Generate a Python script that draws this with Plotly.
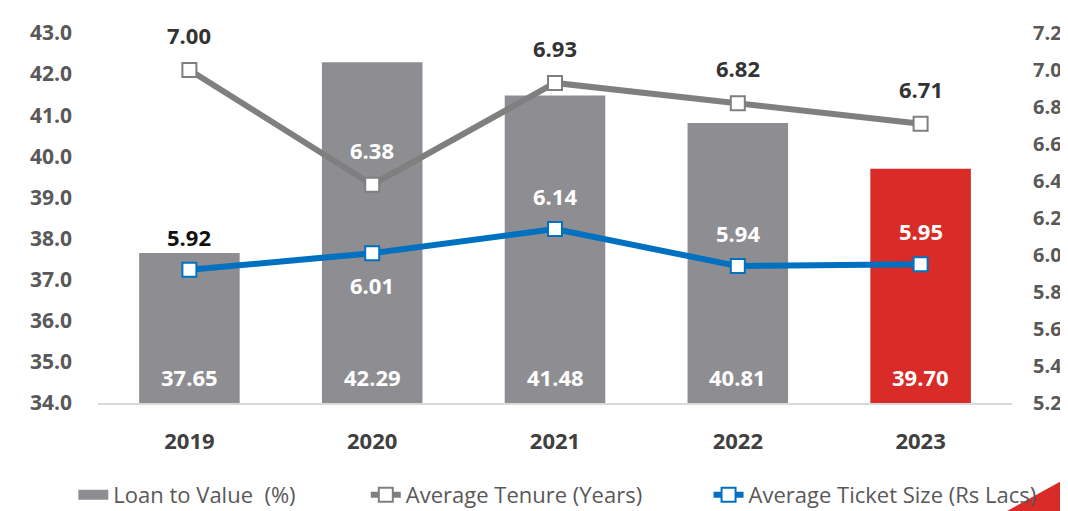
import plotly.graph_objects as go

years = ["2019", "2020", "2021", "2022", "2023"]
loan_to_value = [37.65, 42.29, 41.48, 40.81, 39.70]
avg_tenure = [7.00, 6.38, 6.93, 6.82, 6.71]
avg_ticket = [5.92, 6.01, 6.14, 5.94, 5.95]

left_ticks = [34, 35, 36, 37, 38, 39, 40, 41, 42, 43]
right_ticks = [5.2, 5.4, 5.6, 5.8, 6.0, 6.2, 6.4, 6.6, 6.8, 7.0, 7.2]

# label styling per point (colour, offset in px)
tenure_label_colors = ["#333333", "white", "#333333", "#333333", "#333333"]
ticket_label_colors = ["#111111", "white", "white", "white", "white"]
ticket_label_shift = [33, -32, 33, 33, 33]

GREY_BAR = "#8e8e92"
RED_BAR = "#d92b27"
GREY_LINE = "#7f7f7f"
BLUE_LINE = "#0070c0"
FONT = "Open Sans, Arial, sans-serif"
LABEL_SIZE = 22

fig = go.Figure()

fig.add_trace(go.Bar(
    x=years, y=loan_to_value, name="Loan to Value  (%)",
    marker=dict(color=[GREY_BAR] * 4 + [RED_BAR], line=dict(width=0)),
    width=0.55, showlegend=False,
))
# legend-only entry so the bar swatch is a wide block like the original
fig.add_trace(go.Scatter(
    x=[None], y=[None], name="Loan to Value  (%)", mode="lines",
    line=dict(color=GREY_BAR, width=16), legend="legend",
))

fig.add_trace(go.Scatter(
    x=years, y=avg_tenure, name="Average Tenure (Years)", yaxis="y2",
    mode="lines+markers", legend="legend2",
    line=dict(color=GREY_LINE, width=6),
    marker=dict(symbol="square", size=14, color="white", line=dict(color=GREY_LINE, width=2)),
))

fig.add_trace(go.Scatter(
    x=years, y=avg_ticket, name="Average Ticket Size (Rs Lacs)", yaxis="y2",
    mode="lines+markers", legend="legend3",
    line=dict(color=BLUE_LINE, width=6),
    marker=dict(symbol="square", size=14, color="white", line=dict(color=BLUE_LINE, width=2)),
))

# annotations use the category index (numeric-looking strings confuse the axis)
annotations = []
for i, v in enumerate(loan_to_value):
    annotations.append(dict(
        x=i, y=34, xref="x", yref="y", text=f"<b>{v:.2f}</b>", showarrow=False,
        yanchor="bottom", yshift=9, font=dict(color="white", size=LABEL_SIZE, family=FONT),
    ))
for i, (v, c) in enumerate(zip(avg_tenure, tenure_label_colors)):
    annotations.append(dict(
        x=i, y=v, xref="x", yref="y2", text=f"<b>{v:.2f}</b>", showarrow=False,
        yshift=35, font=dict(color=c, size=LABEL_SIZE, family=FONT),
    ))
for i, (v, c, s) in enumerate(zip(avg_ticket, ticket_label_colors, ticket_label_shift)):
    annotations.append(dict(
        x=i, y=v, xref="x", yref="y2", text=f"<b>{v:.2f}</b>", showarrow=False,
        yshift=s, font=dict(color=c, size=LABEL_SIZE, family=FONT),
    ))

legend_style = dict(
    orientation="h", xanchor="left", y=-0.2486, yanchor="middle",
    font=dict(size=22, color="#595959", family=FONT), bgcolor="rgba(0,0,0,0)",
)

# page body has an 8px margin, so the figure is 8px smaller than the window
fig.update_layout(
    width=1060, height=503,
    margin=dict(l=90, r=56, t=25, b=108, autoexpand=False),
    plot_bgcolor="white", paper_bgcolor="white",
    font=dict(family=FONT, color="#595959"),
    showlegend=True,
    legend=dict(x=-0.027, **legend_style),
    legend2=dict(x=0.293, **legend_style),
    legend3=dict(x=0.668, **legend_style),
    annotations=annotations,
    xaxis=dict(
        type="category", range=[-0.5, 4.5],
        showgrid=False, showline=True, linecolor="#d9d9d9", linewidth=2,
        tickfont=dict(size=22, color="#404040", family=FONT, weight="bold"),
        ticklabelstandoff=18,
    ),
    yaxis=dict(
        range=[34, 43], tickvals=left_ticks, tickformat=".1f",
        showgrid=False, zeroline=False, showline=False,
        tickfont=dict(size=21, color="#595959", family=FONT, weight="bold"),
        ticklabelstandoff=25,
    ),
    yaxis2=dict(
        range=[5.2, 7.2], tickvals=right_ticks, tickformat=".1f",
        overlaying="y", side="right",
        showgrid=False, zeroline=False, showline=False,
        tickfont=dict(size=20, color="#595959", family=FONT, weight="bold"),
        ticklabelstandoff=20,
    ),
    shapes=[dict(
        type="path", xref="paper", yref="paper",
        path="M 0.9945 -0.292 L 1.062 -0.20 L 1.062 -0.292 Z",
        fillcolor=RED_BAR, line=dict(width=0), layer="above",
    )],
)

fig.write_html("out.html")
